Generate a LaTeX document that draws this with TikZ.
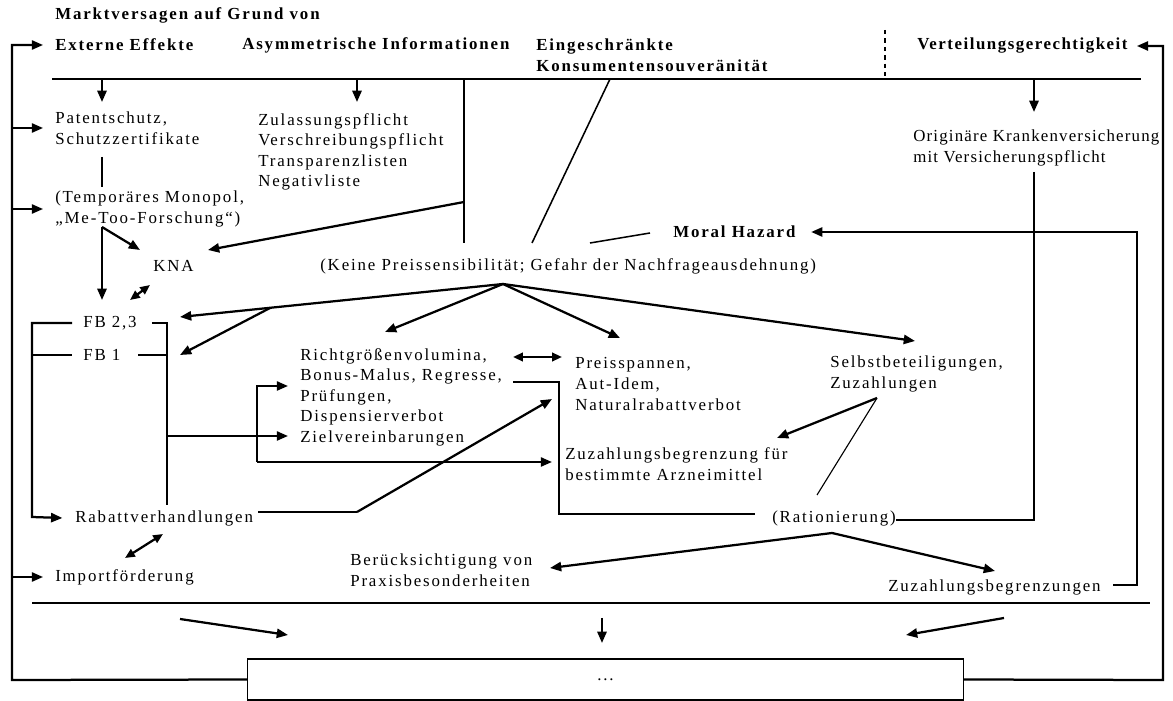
\documentclass[tikz,border=0pt]{standalone}
\usepackage{fontspec}
\setmainfont{Liberation Serif}[LetterSpace=11]
\usetikzlibrary{arrows.meta, positioning}
\newcommand{\diagfont}{\fontsize{12pt}{14.6pt}\selectfont}

\begin{document}
\begin{tikzpicture}[x=0.025cm, y=-0.025cm,
    txt/.style={anchor=west, align=left, inner sep=0pt, font=\diagfont},
    hd/.style={txt, font=\diagfont\bfseries},
    tight/.style={font=\diagfont\addfontfeature{LetterSpace=7}},
    thn/.style={line width=0.8pt},
    med/.style={line width=1.1pt},
    thk/.style={line width=1.6pt},
    arr/.style={thk, -{Triangle[length=8pt, width=6.5pt]}},
    dbl/.style={thk, {Triangle[length=7pt, width=6pt]}-{Triangle[length=7pt, width=6pt]}}]
  \useasboundingbox (0,0) rectangle (1173,701);

  % Ueberschriften
  \node[hd] (title)  at (55,15)  {Marktversagen auf Grund von};
  \node[hd] (extern) at (55,45)  {Externe Effekte};
  \node[hd] (asym)   at (242,45) {Asymmetrische Informationen};
  \node[hd] (einge)  at (536,55) {Eingeschränkte\\Konsumentensouveränität};
  \node[hd, font=\diagfont\bfseries\addfontfeature{LetterSpace=9}] (vert) at (917,46) {Verteilungsgerechtigkeit};

  % Massnahmen
  \node[txt] (patent) at (55,128)  {Patentschutz,\\Schutzzertifikate};
  \node[txt] (zulass) at (258,152) {Zulassungspflicht\\Verschreibungspflicht\\Transparenzlisten\\Negativliste};
  \node[txt, tight] (orig) at (913,148) {Originäre Krankenversicherung\\mit Versicherungspflicht};
  \node[txt] (temp)   at (55,209)  {(Temporäres Monopol,\\„Me-Too-Forschung“)};
  \node[hd]  (moral)  at (673,232) {Moral Hazard};
  \node[txt] (kna)    at (153,266) {KNA};
  \node[txt] (keine)  at (320,266) {(Keine Preissensibilität; Gefahr der Nachfrageausdehnung)};
  \node[txt] (fbzwei) at (83,323)  {FB 2,3};
  \node[txt] (fbeins) at (83,355)  {FB 1};
  \node[txt] (richt)  at (300,397) {Richtgrößenvolumina,\\Bonus-Malus, Regresse,\\Prüfungen,\\Dispensierverbot\\Zielvereinbarungen};
  \node[txt] (preis)  at (575,384) {Preisspannen,\\Aut-Idem,\\Naturalrabattverbot};
  \node[txt] (selbst) at (830,374) {Selbstbeteiligungen,\\Zuzahlungen};
  \node[txt] (zuzbeg) at (565,464) {Zuzahlungsbegrenzung für\\bestimmte Arzneimittel};
  \node[txt] (rabatt) at (75,518)  {Rabattverhandlungen};
  \node[txt] (ration) at (772,518) {(Rationierung)};
  \node[txt] (beruck) at (350,570) {Berücksichtigung von\\Praxisbesonderheiten};
  \node[txt] (import) at (55,577)  {Importförderung};
  \node[txt] (zuzgr)  at (888,587) {Zuzahlungsbegrenzungen};
  \node[draw, thn, inner sep=0pt, minimum width=17.875cm, minimum height=1.025cm, font=\diagfont] (box) at (605.5,679.5) {...};

  % Knoten- und Pfeilpunkte
  \coordinate (lt) at (12,45);    \coordinate (lb) at (12,680);
  \coordinate (rt) at (1163,46);  \coordinate (rb) at (1163,680);
  \coordinate (hl) at (52,79);    \coordinate (hr) at (1141,79);
  \coordinate (dsh) at (885,30);
  \coordinate (d1) at (102,102);  \coordinate (d2) at (357,102);  \coordinate (d3) at (1034,112);
  \coordinate (pt1) at (102,157); \coordinate (pt2) at (102,187);
  \coordinate (tj) at (102,227);  \coordinate (t-kna) at (140,250); \coordinate (t-fb) at (102,300);
  \coordinate (aj) at (464,202);  \coordinate (av) at (464,243);   \coordinate (t-kna2) at (208,250);
  \coordinate (e1) at (610,79);   \coordinate (e2) at (532,243);
  \coordinate (m1) at (590,243);  \coordinate (m2) at (650,233);
  \coordinate (k1) at (130,300);  \coordinate (k2) at (150,285);
  \coordinate (apex) at (503,284);
  \coordinate (t-fb2) at (180,317); \coordinate (br) at (270,308); \coordinate (t-fb1) at (180,355);
  \coordinate (t-richt) at (385,332); \coordinate (t-preis) at (620,338); \coordinate (t-selbst) at (915,341);
  \coordinate (bl) at (32,323);   \coordinate (bb) at (32,517);
  \coordinate (bq) at (167,323);  \coordinate (bz) at (167,505);  \coordinate (t-ziel) at (288,436);
  \coordinate (gb) at (257,386);  \coordinate (gz) at (257,462);
  \coordinate (t-bonus) at (288,386); \coordinate (t-zuzbeg) at (552,462);
  \coordinate (rp1) at (513,357); \coordinate (rp2) at (562,357);
  \coordinate (bm1) at (513,382); \coordinate (bm2) at (559,382); \coordinate (bm3) at (559,514); \coordinate (bm4) at (755,514);
  \coordinate (rk0) at (258,512); \coordinate (rk) at (357,512);  \coordinate (t-cross) at (552,399);
  \coordinate (ri1) at (125,558); \coordinate (ri2) at (163,534);
  \coordinate (sj) at (877,398);  \coordinate (t-zuz2) at (777,438); \coordinate (sr) at (817,495);
  \coordinate (o1) at (1034,172); \coordinate (o2) at (1034,520);
  \coordinate (mr1) at (1113,585); \coordinate (mr2) at (1137,585); \coordinate (mr3) at (1137,232);
  \coordinate (ra) at (832,533);  \coordinate (t-beruck) at (550,568); \coordinate (t-zuzgr) at (995,571);
  \coordinate (ul) at (32,603);   \coordinate (ur) at (1150,603);
  \coordinate (u1) at (180,619);  \coordinate (t-u1) at (288,635);
  \coordinate (u2) at (602,618);  \coordinate (t-u2) at (602,643);
  \coordinate (u3) at (1004,618); \coordinate (t-u3) at (906,635);

  % Rueckkopplungen
  \draw[arr] (box.west) -- (lb) -- (lt) -- ([xshift=-8.5pt]extern.west);
  \draw[arr] (lt |- patent.west) -- ([xshift=-8.5pt]patent.west);
  \draw[arr] (lt |- temp.west) -- ([xshift=-8.5pt]temp.west);
  \draw[arr] (lt |- import.west) -- ([xshift=-8.5pt]import.west);
  \draw[arr] (box.east) -- (rb) -- (rt) -- ([xshift=6.5pt]vert.east);

  % Kopfzeile
  \draw[med] (hl) -- (hr);
  \draw[med, dashed] (dsh) -- (dsh |- hl);
  \draw[arr] (d1 |- hl) -- (d1);
  \draw[arr] (d2 |- hl) -- (d2);
  \draw[arr] (d3 |- hl) -- (d3);

  % linke Seite
  \draw[thn] (pt1) -- (pt2);
  \draw[arr] (tj) -- (t-kna);
  \draw[arr] (tj) -- (t-fb);
  \draw[med] (av |- hl) -- (av);
  \draw[arr] (aj) -- (t-kna2);
  \draw[med] (e1) -- (e2);
  \draw[med] (m1) -- (m2);
  \draw[dbl] (k1) -- (k2);

  % Nachfrageausdehnung
  \draw[arr] (apex) -- (t-fb2);
  \draw[arr] (br) -- (t-fb1);
  \draw[arr] (apex) -- (t-richt);
  \draw[arr] (apex) -- (t-preis);
  \draw[arr] (apex) -- (t-selbst);

  % Festbetraege
  \draw[arr] ([xshift=-7.8pt]fbzwei.west) -- (bl) -- (bb) -- ([xshift=-9pt]rabatt.west);
  \draw[thk] (bl |- fbeins.west) -- ([xshift=-7.8pt]fbeins.west);
  \draw[thk] ([xshift=10.6pt]fbzwei.east) -- (bq) -- (bz);
  \draw[thn] ([xshift=12.7pt]fbeins.east) -- (bq |- fbeins.west);
  \draw[arr] (bq |- t-ziel) -- (t-ziel);
  \draw[arr] (gz) -- (gb) -- (t-bonus);
  \draw[arr] (gz) -- (t-zuzbeg);
  \draw[dbl] (rp1) -- (rp2);
  \draw[med] (bm1) -- (bm2) -- (bm3) -- (bm4);
  \draw[med] (rk0) -- (rk);
  \draw[arr] (rk) -- (t-cross);
  \draw[dbl] (ri1) -- (ri2);

  % rechte Seite
  \draw[arr] (sj) -- (t-zuz2);
  \draw[thn] (sj) -- (sr);
  \draw[thn] (o1) -- (o2) -- (o2 -| ration.east);
  \draw[arr] (mr1) -- (mr2) -- (mr3) -- ([xshift=11pt]moral.east);
  \draw[arr] (ra) -- (t-beruck);
  \draw[arr] (ra) -- (t-zuzgr);

  % Ergebnis
  \draw[med] (ul) -- (ur);
  \draw[arr] (u1) -- (t-u1);
  \draw[arr] (u2) -- (t-u2);
  \draw[arr] (u3) -- (t-u3);
\end{tikzpicture}
\end{document}
